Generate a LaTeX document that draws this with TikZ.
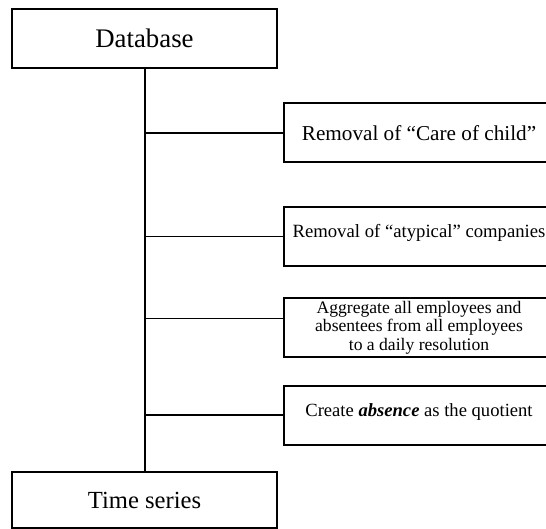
\documentclass[tikz,border=0pt]{standalone}
\usepackage{fontspec}
\setmainfont{Liberation Serif}

\begin{document}
\begin{tikzpicture}[
  x=0.5pt, y=-0.5pt,
  bx/.style={draw, line width=1pt, inner sep=0pt, align=center},
  step box/.style={bx, minimum width=135pt, minimum height=29.5pt},
  lnk/.style={line width=0.8pt},
]
\useasboundingbox (0,0) rectangle (546,529);
\clip (0,0) rectangle (546,529);

\node [bx, minimum width=132.5pt, minimum height=29.5pt, font=\fontsize{13.4}{16}\selectfont] (db) at (144.5,38.5) {Database};
\node [bx, minimum width=132.5pt, minimum height=28pt, font=\fontsize{12.3}{15}\selectfont] (ts) at (144.5,500) {Time series};

\node [step box, font=\fontsize{10.6}{12}\selectfont] (rm1) at (419,133) {Removal of “Care of child”};
\node [step box, font=\fontsize{9.35}{11}\selectfont] (rm2) at (419,236.5) {\raisebox{6pt}{Removal of “atypical” companies}};
\node [step box, font=\fontsize{8.8}{9.3}\selectfont] (agg) at (419,327.5) {Aggregate all employees and\\absentees from all employees\\to a daily resolution};
\node [step box, font=\fontsize{9.3}{11}\selectfont] (abs) at (419,415) {\raisebox{5pt}{Create \textbf{\textit{absence}} as the quotient}};

\draw [line width=1pt] (db) -- (ts);

\coordinate (j3) at ([yshift=4.5pt]agg.west);
\draw [lnk] (db.south |- rm1.west) -- (rm1.west);
\draw [lnk] (db.south |- rm2.west) -- (rm2.west);
\draw [lnk] (db.south |- j3) -- (j3);
\draw [lnk] (db.south |- abs.west) -- (abs.west);

\end{tikzpicture}
\end{document}
